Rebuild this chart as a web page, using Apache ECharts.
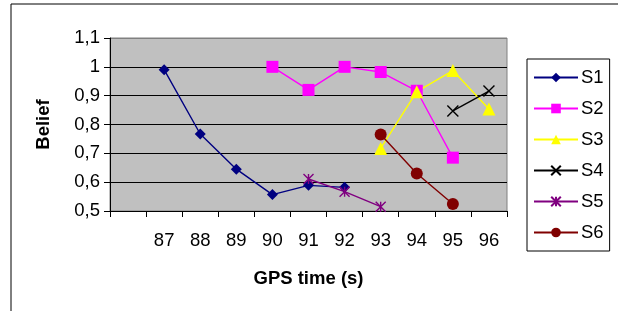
<!DOCTYPE html>
<html>
<head>
<meta charset="utf-8">
<script src="https://cdn.jsdelivr.net/npm/echarts@6/dist/echarts.min.js"></script>
<style>
  html, body { margin: 0; padding: 0; background: #fff; }
  #chart { width: 618px; height: 311px; }
</style>
</head>
<body>
<div id="chart"></div>
<script>
// x categories (first slot has no label in the original)
const categories = ['', '87', '88', '89', '90', '91', '92', '93', '94', '95', '96']
const yTicks = [0.5, 0.6, 0.7, 0.8, 0.9, 1.0, 1.1]

const s1 = [null, 0.99, 0.767, 0.645, 0.557, 0.589, 0.582, null, null, null, null]
const s2 = [null, null, null, null, 1.0, 0.92, 1.0, 0.982, 0.917, 0.685, null]
const s3 = [null, null, null, null, null, null, null, 0.717, 0.914, 0.987, 0.854]
const s4 = [null, null, null, null, null, null, null, null, null, 0.847, 0.916]
const s5 = [null, null, null, null, null, 0.611, 0.567, 0.515, null, null, null]
const s6 = [null, null, null, null, null, null, null, 0.765, 0.63, 0.524, null]

const FONT = '"Liberation Sans", Arial, sans-serif'
const crossPath = 'path://M0,0L10,10M10,0L0,10'
const starPath = 'path://M0,0L10,10M10,0L0,10M5,0L5,10'

const mk = (name, data, color, symbol, size, hollow) => ({
    name,
    type: 'line',
    data,
    connectNulls: false,
    symbol,
    symbolSize: size,
    showAllSymbol: true,
    lineStyle: { color, width: 1.4 },
    itemStyle: hollow
        ? { color: 'transparent', borderColor: color, borderWidth: 1.4 }
        : { color, borderWidth: 0 },
    emphasis: { disabled: true },
    animation: false
})

const chart = echarts.init(document.getElementById('chart'))
chart.setOption({
    animation: false,
    textStyle: { fontFamily: FONT },
    graphic: [{
        type: 'rect',
        shape: { x: 11, y: 4, width: 640, height: 340 },
        style: { fill: 'none', stroke: '#000', lineWidth: 1 },
        silent: true,
        z: -10
    }],
    grid: {
        left: 110, top: 38, right: 111, bottom: 100,
        show: true,
        backgroundColor: '#C0C0C0',
        borderColor: '#808080',
        borderWidth: 1
    },
    legend: {
        orient: 'vertical',
        left: 527,
        top: 59,
        width: 87,
        padding: [9, 6, 9, 6],
        backgroundColor: '#fff',
        borderColor: '#000',
        borderWidth: 1,
        itemWidth: 44,
        itemHeight: 12,
        itemGap: 12,
        textStyle: { fontSize: 18.5, color: '#000', fontFamily: FONT, padding: [0, 0, 0, -2] },
        data: ['S1', 'S2', 'S3', 'S4', 'S5', 'S6']
    },
    xAxis: {
        type: 'category',
        data: categories,
        boundaryGap: true,
        name: 'GPS time (s)',
        nameLocation: 'middle',
        nameGap: 58,
        nameTextStyle: { fontSize: 18.5, fontWeight: 'bold', color: '#000' },
        axisLine: { lineStyle: { color: '#000', width: 1 } },
        axisTick: { show: true, inside: false, length: 6, alignWithLabel: false, lineStyle: { color: '#000' } },
        axisLabel: { fontSize: 18.5, color: '#000', margin: 20, interval: 0 },
        splitLine: { show: false }
    },
    yAxis: {
        type: 'value',
        min: yTicks[0],
        max: yTicks[yTicks.length - 1],
        interval: 0.1,
        name: 'Belief',
        nameLocation: 'middle',
        nameRotate: 90,
        nameGap: 57,
        nameTextStyle: { fontSize: 18.5, fontWeight: 'bold', color: '#000' },
        axisLine: { show: true, lineStyle: { color: '#000', width: 1 } },
        axisTick: { show: true, inside: false, length: 6, lineStyle: { color: '#000' } },
        axisLabel: {
            fontSize: 18.5, color: '#000', margin: 10,
            formatter: v => String(+v.toFixed(1)).replace('.', ',')
        },
        splitLine: {
            show: true,
            lineStyle: { color: ['#000', '#000', '#000', '#000', '#000', '#000', '#808080'], width: 1 }
        }
    },
    series: [
        mk('S1', s1, '#000080', 'diamond', 11, false),
        mk('S2', s2, '#FF00FF', 'rect', 12, false),
        mk('S3', s3, '#FFFF00', 'triangle', 13, false),
        mk('S4', s4, '#000000', crossPath, 11, true),
        mk('S5', s5, '#800080', starPath, 10, true),
        mk('S6', s6, '#800000', 'circle', 12, false)
    ]
})
</script>
</body>
</html>
